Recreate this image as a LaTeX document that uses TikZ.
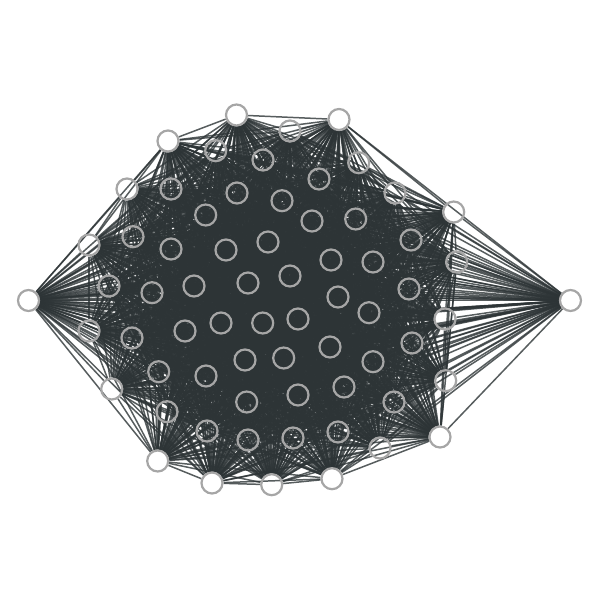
\documentclass[tikz,border=0pt]{standalone}
\usetikzlibrary{backgrounds}
\definecolor{linkdark}{HTML}{2D3436}
\definecolor{ringgray}{HTML}{A6A6A6}
\tikzset{
  vertex/.style={circle,draw=ringgray,line width=1.25pt,minimum size=.42cm,inner sep=0pt},
  link/.style={draw=linkdark,line width=.85pt,draw opacity=.8}
}
\begin{document}
\begin{tikzpicture}[x=.02cm,y=-.02cm]
\useasboundingbox (0,0) rectangle (600,600);

% vertices, one per line of the layout
\foreach \n/\px/\py in {
  1/28.5/300.5, 2/89/245, 3/127/189, 4/168/141, 5/236.5/115, 6/290/131, 7/339/119.5,
  8/215.7/150.7, 9/263/160, 10/171/189, 11/237/193, 12/282/200.7, 13/205.7/215,
  14/133/236.7, 15/171/249, 16/226/250, 17/268/242, 18/109/286, 19/152/292.7,
  20/194/286, 21/248/283, 22/290/276, 23/358.7/162.7, 24/319/179, 25/395/193,
  26/453.7/212, 27/312/221, 28/355.7/219, 29/411/240, 30/331/260, 31/373/262,
  32/456.7/262, 33/338/297, 34/409/289, 35/570.5/300.5, 36/89/331, 37/132/338,
  38/185/331, 39/221/323, 40/262.7/323, 41/298/319, 42/158.7/371.7, 43/206/376,
  44/245/360, 45/283.7/358, 46/298/395, 47/111.7/389, 48/167/411.7, 49/246.7/402,
  50/207/431, 51/248/440, 52/293/438, 53/157.7/461, 54/212/483, 55/271.7/484.7,
  56/369/312.7, 57/445/319, 58/412/343, 59/330/347, 60/373/361.7, 61/445.7/380.7,
  62/344/387, 63/394/402, 64/338/432, 65/440/437, 66/380/448, 67/332/478.7}
  \node [vertex] (v\n) at (\px,\py) {};

% every pair is linked
\begin{scope}[on background layer]
\foreach \a in {1,...,66} {
  \pgfmathtruncatemacro{\first}{\a+1}
  \foreach \b in {\first,...,67}
    \draw [link] (v\a) -- (v\b);
}
\end{scope}
\end{tikzpicture}
\end{document}
